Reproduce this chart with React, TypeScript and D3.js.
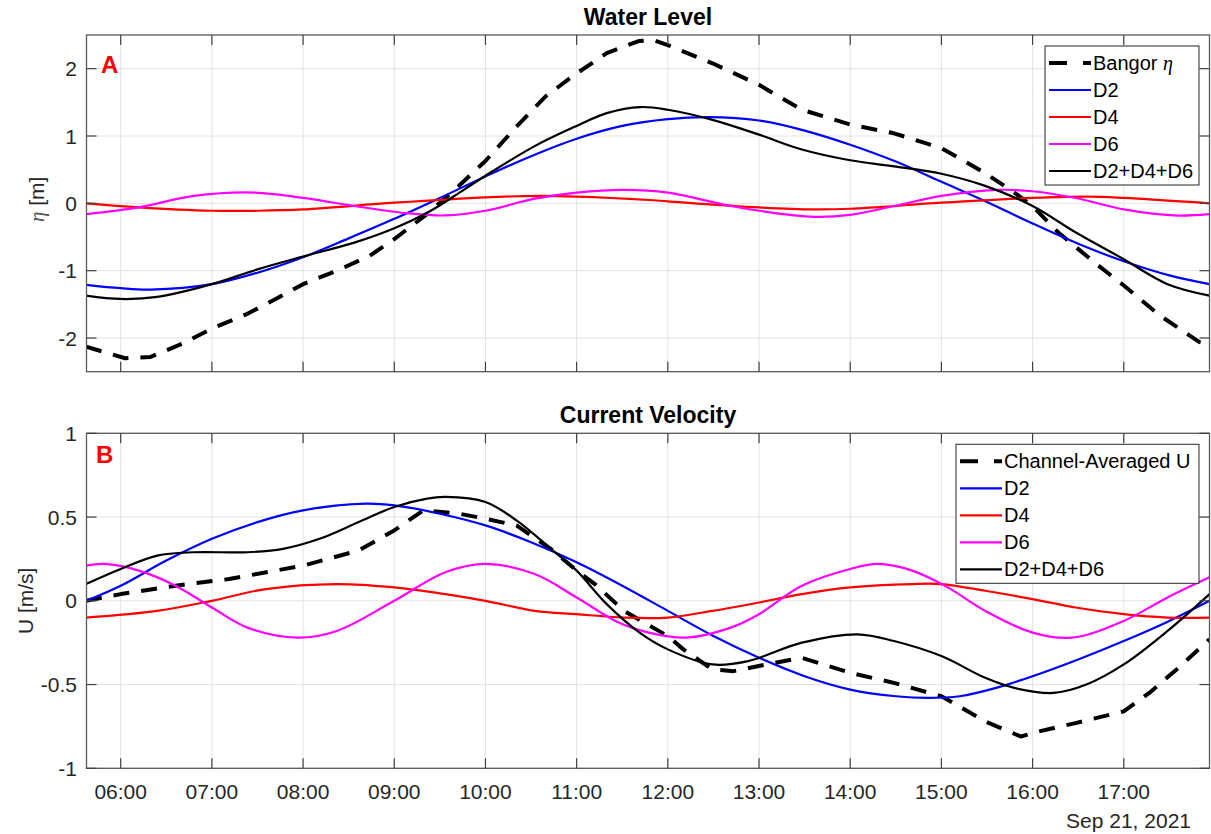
import React from "react";
import * as d3 from "d3";

// hours of the day (Sep 21, 2021) -> value
const hourTicks = [6, 7, 8, 9, 10, 11, 12, 13, 14, 15, 16, 17];
const etaTicks = [-2, -1, 0, 1, 2];
const uTicks = [-1, -0.5, 0, 0.5, 1];

const etaBangor: [number, number][] = [
    [5.62, -2.13], [6.05, -2.3], [6.33, -2.28], [6.68, -2.08], [7.0, -1.86],
    [7.39, -1.64], [7.7, -1.42], [8.0, -1.2], [8.37, -1.0], [8.73, -0.78],
    [9.0, -0.53], [9.36, -0.16], [9.67, 0.21], [10.0, 0.63], [10.34, 1.14],
    [10.66, 1.59], [11.0, 1.93], [11.33, 2.23], [11.68, 2.41], [11.85, 2.42],
    [12.0, 2.35], [12.49, 2.08], [13.0, 1.76], [13.47, 1.39], [14.0, 1.17],
    [14.48, 1.04], [15.0, 0.82], [15.48, 0.45], [15.8, 0.16], [16.0, -0.04],
    [16.28, -0.43], [16.68, -0.88], [17.0, -1.22], [17.4, -1.67], [17.83, -2.06],
    [17.94, -2.1],
];
const etaD2: [number, number][] = [
    [5.62, -1.21], [6.0, -1.26], [6.33, -1.28], [7.0, -1.2], [7.5, -1.03],
    [8.0, -0.8], [8.5, -0.52], [9.0, -0.23], [9.5, 0.08], [10.0, 0.4],
    [10.5, 0.7], [11.0, 0.96], [11.5, 1.15], [12.0, 1.25], [12.45, 1.28],
    [13.0, 1.23], [13.5, 1.08], [14.0, 0.87], [14.5, 0.62], [15.0, 0.32],
    [15.5, 0.02], [16.0, -0.3], [16.5, -0.6], [17.0, -0.86], [17.5, -1.07],
    [17.94, -1.2],
];
const etaD4: [number, number][] = [
    [5.62, 0.0], [6.2, -0.06], [7.0, -0.11], [7.5, -0.11], [8.0, -0.09],
    [9.0, 0.01], [10.0, 0.09], [10.6, 0.11], [11.0, 0.1], [11.79, 0.05],
    [12.0, 0.03], [13.0, -0.06], [13.6, -0.09], [14.0, -0.08], [15.0, 0.01],
    [16.0, 0.08], [16.6, 0.1], [17.0, 0.08], [17.94, 0.0],
];
const etaD6: [number, number][] = [
    [5.62, -0.16], [6.2, -0.06], [6.8, 0.11], [7.47, 0.16], [8.0, 0.08],
    [8.61, -0.05], [9.16, -0.15], [9.56, -0.18], [10.0, -0.11], [10.54, 0.07],
    [11.0, 0.16], [11.52, 0.2], [12.0, 0.16], [12.69, -0.04], [13.0, -0.11],
    [13.6, -0.2], [14.0, -0.17], [14.48, -0.04], [15.0, 0.11], [15.6, 0.2],
    [16.0, 0.18], [16.47, 0.08], [17.0, -0.09], [17.55, -0.18], [17.94, -0.16],
];
const etaSum: [number, number][] = [
    [5.62, -1.37], [6.0, -1.42], [6.4, -1.39], [7.0, -1.2], [7.5, -0.98],
    [8.0, -0.79], [8.57, -0.58], [9.0, -0.37], [9.4, -0.11], [9.75, 0.19],
    [10.0, 0.41], [10.54, 0.85], [11.0, 1.15], [11.33, 1.34], [11.7, 1.43],
    [12.0, 1.39], [12.49, 1.24], [13.0, 1.02], [13.47, 0.8], [14.0, 0.64],
    [14.48, 0.55], [15.0, 0.44], [15.48, 0.26], [16.0, -0.04], [16.47, -0.43],
    [17.0, -0.83], [17.48, -1.2], [17.94, -1.37],
];

const uChannel: [number, number][] = [
    [5.62, 0.0], [6.0, 0.04], [6.6, 0.09], [7.19, 0.13], [8.0, 0.21],
    [8.61, 0.3], [9.0, 0.42], [9.32, 0.54], [9.71, 0.52], [10.0, 0.49],
    [10.34, 0.45], [10.74, 0.3], [11.0, 0.18], [11.2, 0.1], [11.52, -0.06],
    [11.77, -0.14], [12.0, -0.21], [12.17, -0.29], [12.49, -0.41], [12.72, -0.42],
    [13.08, -0.38], [13.47, -0.34], [14.0, -0.43], [14.48, -0.49], [14.87, -0.55],
    [15.0, -0.57], [15.48, -0.72], [15.87, -0.81], [16.07, -0.78], [16.47, -0.73],
    [17.0, -0.66], [17.28, -0.55], [17.6, -0.4], [17.94, -0.23],
];
const uD2: [number, number][] = [
    [5.62, 0.0], [6.0, 0.09], [6.5, 0.24], [7.0, 0.37], [7.5, 0.47],
    [8.0, 0.54], [8.69, 0.58], [9.0, 0.57], [9.5, 0.52], [10.0, 0.45],
    [10.5, 0.35], [11.0, 0.23], [11.5, 0.09], [12.0, -0.06], [12.5, -0.21],
    [13.0, -0.34], [13.5, -0.45], [14.0, -0.53], [14.5, -0.57], [14.85, -0.58],
    [15.2, -0.57], [15.6, -0.52], [16.0, -0.45], [16.5, -0.35], [17.0, -0.24],
    [17.5, -0.12], [17.94, 0.0],
];
const uD4: [number, number][] = [
    [5.62, -0.1], [6.4, -0.06], [7.0, 0.0], [7.59, 0.07], [8.37, 0.1],
    [9.0, 0.08], [9.56, 0.04], [10.0, 0.0], [10.54, -0.06], [11.0, -0.08],
    [11.52, -0.1], [12.0, -0.1], [12.49, -0.06], [13.0, -0.01], [13.47, 0.04],
    [14.0, 0.08], [14.68, 0.1], [15.0, 0.1], [15.48, 0.06], [16.0, 0.01],
    [16.47, -0.04], [17.0, -0.08], [17.48, -0.1], [17.94, -0.1],
];
const uD6: [number, number][] = [
    [5.62, 0.21], [5.82, 0.22], [6.2, 0.18], [6.6, 0.09], [7.0, -0.04],
    [7.39, -0.16], [7.94, -0.22], [8.37, -0.18], [9.0, 0.0], [9.56, 0.17],
    [10.0, 0.22], [10.54, 0.16], [11.0, 0.02], [11.46, -0.13], [11.79, -0.19],
    [12.2, -0.22], [12.69, -0.16], [13.0, -0.08], [13.47, 0.09], [14.0, 0.19],
    [14.3, 0.22], [14.68, 0.18], [15.07, 0.08], [15.48, -0.06], [16.0, -0.19],
    [16.43, -0.22], [17.0, -0.12], [17.48, 0.02], [17.94, 0.14],
];
const uSum: [number, number][] = [
    [5.62, 0.1], [6.0, 0.19], [6.4, 0.27], [6.8, 0.29], [7.39, 0.29],
    [7.78, 0.31], [8.18, 0.37], [8.61, 0.47], [9.0, 0.56], [9.36, 0.61],
    [9.56, 0.62], [10.0, 0.59], [10.34, 0.48], [10.74, 0.3], [11.0, 0.18],
    [11.33, -0.02], [11.69, -0.19], [12.0, -0.29], [12.49, -0.38], [12.88, -0.36],
    [13.47, -0.25], [14.08, -0.2], [14.48, -0.24], [15.0, -0.33], [15.48, -0.46],
    [15.8, -0.52], [16.23, -0.55], [16.59, -0.5], [17.0, -0.38], [17.48, -0.18],
    [17.94, 0.04],
];

const baseTime = new Date(2021, 8, 21, 0, 0, 0).getTime();
const toDate = (h: number) => new Date(baseTime + h * 3600000);

const W = 1211;
const H = 834;
const left = 86.5;
const right = 1209.5;
const fontSans = "'Liberation Sans', Arial, Helvetica, sans-serif";
const fontSerif = "'Liberation Serif', 'DejaVu Serif', serif";
const axisColor = "#262626";

const x = d3.scaleTime().domain([toDate(5.625), toDate(17.94)]).range([left, right]);

const Panel: React.FC<any> = (props: any) => {
    const { id, top, bottom, yDomain, yTicks, title, letter, yLabel, series, legendLabels, legendX, showX } = props;
    const y = d3.scaleLinear().domain(yDomain).range([bottom, top]);

    const line = (d: any) =>
        d3
            .line<[number, number]>()
            .x((p) => x(toDate(p[0])))
            .y((p) => y(p[1]))
            .curve(d.dash ? d3.curveLinear : d3.curveCatmullRom.alpha(0.5))(d.data);

    const legendTop = top + 11;
    const rowH = 27;
    const legendH = rowH * series.length + 4;

    return (
        <g>
            <defs>
                <clipPath id={`clip-${id}`}>
                    <rect x={left} y={top} width={right - left} height={bottom - top} />
                </clipPath>
            </defs>
            {/* grid */}
            {hourTicks.map((h) => (
                <line key={`gx${h}`} x1={x(toDate(h))} x2={x(toDate(h))} y1={top} y2={bottom} stroke="#e2e2e2" strokeWidth={1} />
            ))}
            {yTicks.map((v: number) => (
                <line key={`gy${v}`} x1={left} x2={right} y1={y(v)} y2={y(v)} stroke="#e2e2e2" strokeWidth={1} />
            ))}
            {/* series */}
            <g clipPath={`url(#clip-${id})`}>
                {series.map((d: any, i: number) => (
                    <path
                        key={`s${i}`}
                        d={line(d) || ""}
                        fill="none"
                        stroke={d.color}
                        strokeWidth={d.width}
                        strokeDasharray={d.dash || undefined}
                        strokeLinejoin="round"
                    />
                ))}
            </g>
            {/* box */}
            <rect x={left} y={top} width={right - left} height={bottom - top} fill="none" stroke="#5a5a5a" strokeWidth={1.3} />
            {/* ticks */}
            {hourTicks.map((h) => (
                <g key={`tx${h}`}>
                    <line x1={x(toDate(h))} x2={x(toDate(h))} y1={bottom} y2={bottom - 10} stroke="#404040" strokeWidth={1.2} />
                    <line x1={x(toDate(h))} x2={x(toDate(h))} y1={top} y2={top + 10} stroke="#404040" strokeWidth={1.2} />
                    {showX && (
                        <text x={x(toDate(h))} y={bottom + 31} textAnchor="middle" fontSize={21} fill={axisColor} fontFamily={fontSans}>
                            {d3.timeFormat("%H:%M")(toDate(h))}
                        </text>
                    )}
                </g>
            ))}
            {yTicks.map((v: number) => (
                <g key={`ty${v}`}>
                    <line x1={left} x2={left + 10} y1={y(v)} y2={y(v)} stroke="#404040" strokeWidth={1.2} />
                    <line x1={right} x2={right - 10} y1={y(v)} y2={y(v)} stroke="#404040" strokeWidth={1.2} />
                    <text x={77} y={y(v) + 7.5} textAnchor="end" fontSize={21} fill={axisColor} fontFamily={fontSans}>
                        {String(v)}
                    </text>
                </g>
            ))}
            {/* title */}
            <text x={(left + right) / 2} y={top - 10} textAnchor="middle" fontSize={23} fontWeight="bold" fill="#000" fontFamily={fontSans}>
                {title}
            </text>
            {/* y label */}
            {yLabel}
            {/* panel letter */}
            <text x={letter.x} y={letter.y} fontSize={24} fontWeight="bold" fill="#ff0000" fontFamily={fontSans}>
                {letter.text}
            </text>
            {/* legend */}
            <g>
                <rect x={legendX} y={legendTop} width={1199 - legendX} height={legendH} fill="#fff" stroke="#262626" strokeWidth={1} />
                {series.map((d: any, i: number) => (
                    <g key={`lg${i}`} transform={`translate(${legendX}, ${legendTop + 17 + i * rowH})`}>
                        <line x1={4} x2={46} y1={0} y2={0} stroke={d.color} strokeWidth={d.dash ? 4 : 2.2} strokeDasharray={d.dash ? "18,16" : undefined} />
                        <text x={48} y={7} fontSize={20} fill="#000" fontFamily={fontSans}>
                            {legendLabels[i]}
                        </text>
                    </g>
                ))}
            </g>
        </g>
    );
};

const App: React.FC = () => {
    const topSeries = [
        { data: etaBangor, color: "#000000", width: 4, dash: "16,12" },
        { data: etaD2, color: "#0000ff", width: 2.2 },
        { data: etaD4, color: "#ff0000", width: 2.2 },
        { data: etaD6, color: "#ff00ff", width: 2.2 },
        { data: etaSum, color: "#000000", width: 2.2 },
    ];
    const bottomSeries = [
        { data: uChannel, color: "#000000", width: 4, dash: "16,12" },
        { data: uD2, color: "#0000ff", width: 2.2 },
        { data: uD4, color: "#ff0000", width: 2.2 },
        { data: uD6, color: "#ff00ff", width: 2.2 },
        { data: uSum, color: "#000000", width: 2.2 },
    ];

    const topTop = 35;
    const topBottom = 371.7;
    const botTop = 433.3;
    const botBottom = 768.3;

    return (
        <svg width={W} height={H} style={{ position: "absolute", top: 0, left: 0, background: "#fff" }}>
            <rect width={W} height={H} fill="#fff" />
            <Panel
                id="a"
                top={topTop}
                bottom={topBottom}
                yDomain={[-2.5, 2.5]}
                yTicks={etaTicks}
                title="Water Level"
                letter={{ text: "A", x: 101, y: 73 }}
                series={topSeries}
                legendX={1045}
                legendLabels={[
                    <tspan key="b">
                        Bangor <tspan fontFamily={fontSerif} fontStyle="italic">η</tspan>
                    </tspan>,
                    "D2",
                    "D4",
                    "D6",
                    "D2+D4+D6",
                ]}
                yLabel={
                    <text
                        transform={`translate(44, ${(topTop + topBottom) / 2 - 4}) rotate(-90)`}
                        textAnchor="middle"
                        fontSize={21}
                        fill={axisColor}
                        fontFamily={fontSans}
                    >
                        <tspan fontFamily={fontSerif} fontStyle="italic" fill="#555">η</tspan> [m]
                    </text>
                }
                showX={false}
            />
            <Panel
                id="b"
                top={botTop}
                bottom={botBottom}
                yDomain={[-1, 1]}
                yTicks={uTicks}
                title="Current Velocity"
                letter={{ text: "B", x: 96, y: 463 }}
                series={bottomSeries}
                legendX={956}
                legendLabels={["Channel-Averaged U", "D2", "D4", "D6", "D2+D4+D6"]}
                yLabel={
                    <text
                        transform={`translate(33, ${(botTop + botBottom) / 2}) rotate(-90)`}
                        textAnchor="middle"
                        fontSize={21}
                        fill={axisColor}
                        fontFamily={fontSans}
                    >
                        U [m/s]
                    </text>
                }
                showX={true}
            />
            <text x={1191} y={828} textAnchor="end" fontSize={21} fill={axisColor} fontFamily={fontSans}>
                Sep 21, 2021
            </text>
        </svg>
    );
};

export default App;
